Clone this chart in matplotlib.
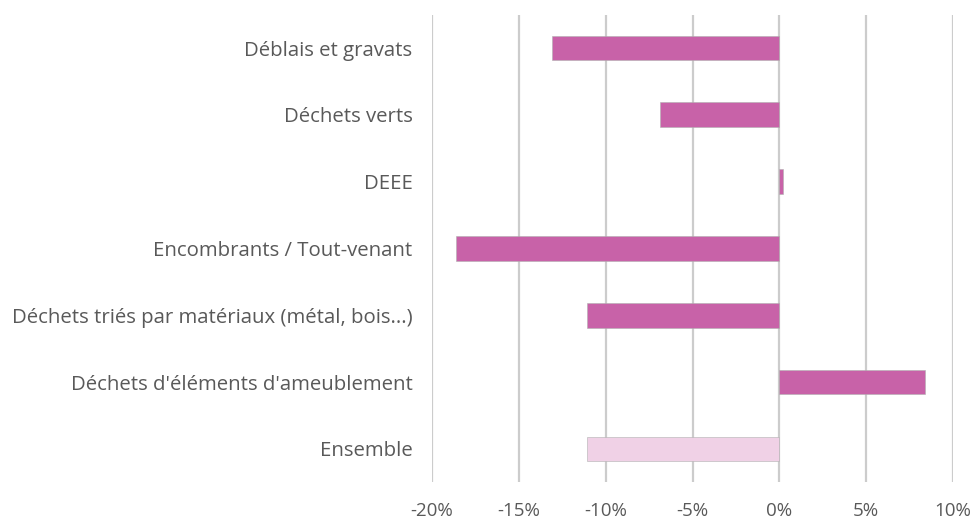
import matplotlib.pyplot as plt
from matplotlib.ticker import FuncFormatter

categories = ["Déblais et gravats", "Déchets verts", "DEEE",
              "Encombrants / Tout-venant",
              "Déchets triés par matériaux (métal, bois...)",
              "Déchets d'éléments d'ameublement", "Ensemble"]
values = [-13.1, -6.9, 0.2, -18.6, -11.1, 8.4, -11.1]
colors = ["#C862A8"] * 6 + ["#F0D1E6"]

plt.rcParams['font.family'] = ['Open Sans', 'DejaVu Sans']

fig = plt.figure(figsize=(9.76, 5.22), dpi=100)
ax = fig.add_axes([0.4426, 0.076, 0.534, 0.896])

ypos = list(range(len(categories)))
ax.barh(ypos, values, height=0.37, color=colors, edgecolor="#B0B0B0",
        linewidth=0.4, zorder=3)

ax.set_xlim(-20, 10)
ax.set_xticks(range(-20, 11, 5))
ax.xaxis.set_major_formatter(FuncFormatter(lambda v, p: f"{v:.0f}%"))
ax.set_ylim(len(categories) - 0.5, -0.5)
ax.set_yticks(ypos)
ax.set_yticklabels(categories)

ax.grid(axis="x", color="#CCCCCC", linewidth=1.6, zorder=0)
for s in ax.spines.values():
    s.set_visible(False)
ax.tick_params(length=0, labelcolor="#595959")
ax.tick_params(axis="y", pad=14, labelsize=14.7)
ax.tick_params(axis="x", pad=14, labelsize=13.5)

fig.savefig("out.png", dpi=100)
